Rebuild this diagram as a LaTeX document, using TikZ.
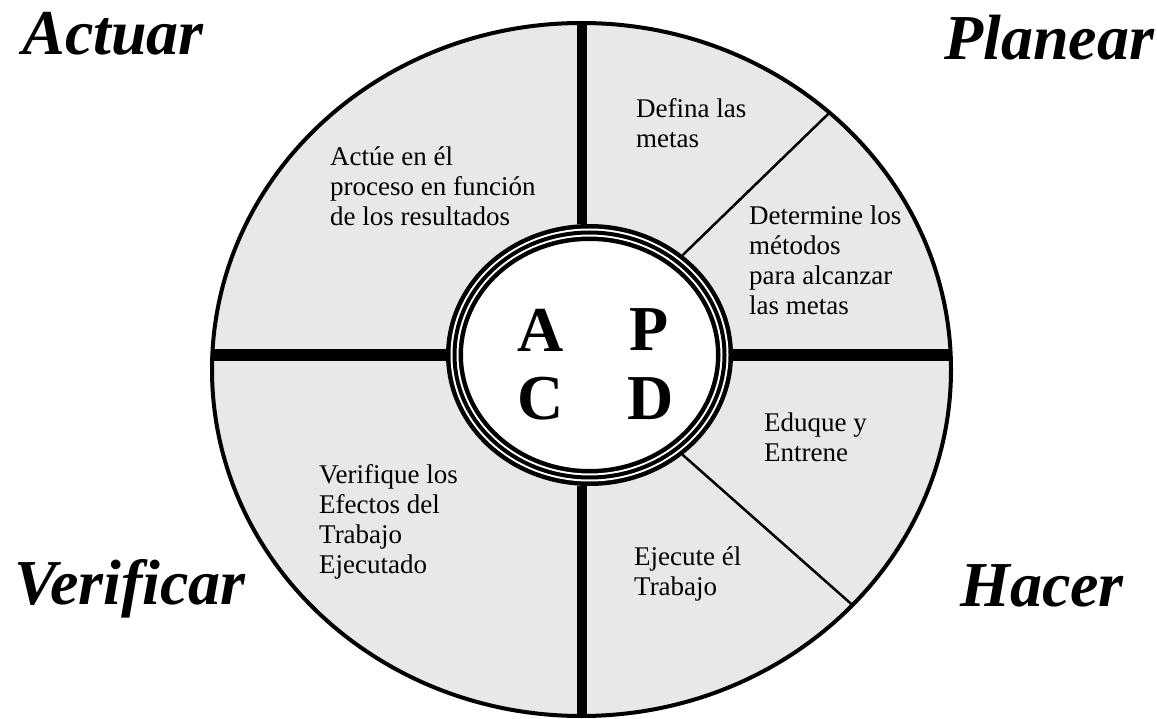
\documentclass[tikz,border=0pt]{standalone}
\usepackage{fontspec}
\setmainfont{Liberation Serif}
\newfontfamily\stepfont{Liberation Serif}
\usetikzlibrary{shapes.geometric}

\begin{document}
\begin{tikzpicture}[x=1pt, y=-1pt, wheel/.style={draw, ellipse, inner sep=0pt, outer sep=0pt}, note/.style={anchor=base west, align=left, inner sep=0pt, font=\stepfont\fontsize{27}{30}\selectfont}, phase/.style={anchor=base, inner sep=0pt, font=\fontsize{64}{64}\selectfont\bfseries\itshape}, letter/.style={inner sep=0pt, font=\fontsize{64}{64}\selectfont\bfseries}]
\useasboundingbox (0,0) rectangle (1157,719);
% outer wheel and hub
\node[wheel, fill=black!9, line width=4pt, minimum width=739, minimum height=693] (rim) at (581.5,369.5) {};
\node[wheel, fill=white, line width=17pt, outer sep=8.5pt, minimum width=270, minimum height=245] (hub) at (589.5,355) {};
\draw[white, line width=2pt, double=black, double distance=4pt] (hub.center) ellipse [x radius=135, y radius=122.5];
% dividers
\draw[line width=12pt] (rim.west |- hub.center) -- (hub.west);
\draw[line width=12pt] (hub.east) -- (rim.east |- hub.center);
\draw[line width=10pt] (rim.north) -- (rim.north |- hub.north);
\draw[line width=10pt] (rim.south) -- (rim.south |- hub.south);
\draw[line width=2.5pt] (hub.47) -- (rim.46);
\draw[line width=2.5pt] (hub.-47) -- (rim.-41.4);
% letters
\node[letter] (la) at (541,330) {A};
\node[letter] (lp) at (649,330) {P};
\node[letter] (lc) at (541,399) {C};
\node[letter] (ld) at (651,399) {D};
% phases
\node[phase] (actuar) at (113,55) {Actuar};
\node[phase] (planear) at (1049,60) {Planear};
\node[phase] (verificar) at (130,604) {Verificar};
\node[phase] (hacer) at (1042,606) {Hacer};
% steps (base = last line)
\node[note] (act) at (330,226) {Actúe en él\\proceso en función\\de los resultados};
\node[note] (metas) at (636,148) {Defina las\\metas};
\node[note] (metodos) at (749,315) {Determine los\\métodos\\para alcanzar\\las metas};
\node[note] (eduque) at (764,461) {Eduque y\\Entrene};
\node[note] (ejecute) at (634,595) {Ejecute él\\Trabajo};
\node[note] (verif) at (319,573) {Verifique los\\Efectos del\\Trabajo\\Ejecutado};
\end{tikzpicture}
\end{document}
